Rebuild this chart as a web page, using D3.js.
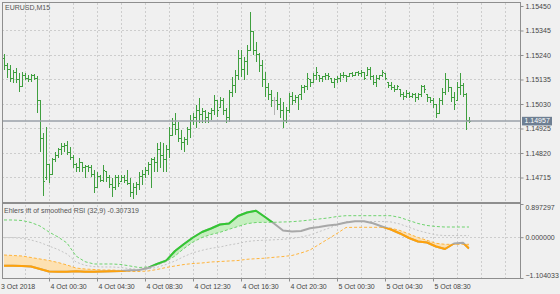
<!DOCTYPE html>
<html>
<head>
<meta charset="utf-8">
<script src="https://cdn.jsdelivr.net/npm/d3@7"></script>
<style>
  body { margin: 0; background: #f0f0f0; }
  svg { display: block; font-family: "Liberation Sans", Arial, sans-serif; }
</style>
</head>
<body>
<svg id="chart" width="560" height="294"></svg>
<script>
const symbolTitle = "EURUSD,M15";
const indicatorTitle = "Ehlers ift of smoothed RSI (32,9) -0.307319";
const firstBar = "2018-10-03 20:45"; // M15 bars

const barOpen = [
  1.15227, 1.15197, 1.15176, 1.15141, 1.15167, 1.15133, 1.15103, 1.15154, 1.15141, 1.15133,
  1.15150, 1.15141, 1.15047, 1.14884, 1.14713, 1.14769, 1.14726, 1.14790, 1.14811, 1.14833,
  1.14846, 1.14854, 1.14824, 1.14799, 1.14769, 1.14756, 1.14781, 1.14756, 1.14760, 1.14756,
  1.14726, 1.14670, 1.14721, 1.14704, 1.14739, 1.14713, 1.14683, 1.14670, 1.14713, 1.14696,
  1.14713, 1.14704, 1.14691, 1.14649, 1.14670, 1.14683, 1.14721, 1.14726, 1.14747, 1.14769,
  1.14790, 1.14781, 1.14833, 1.14811, 1.14790, 1.14833, 1.14897, 1.14940, 1.14919, 1.14884,
  1.14867, 1.14876, 1.14919, 1.14961, 1.14970, 1.15004, 1.14983, 1.14996, 1.14970, 1.14991,
  1.15004, 1.15047, 1.15017, 1.15047, 1.15004, 1.14970, 1.15081, 1.15111, 1.15154, 1.15227,
  1.15176, 1.15210, 1.15261, 1.15339, 1.15261, 1.15240, 1.15197, 1.15133, 1.15099, 1.15069,
  1.15047, 1.15047, 1.15026, 1.15004, 1.14961, 1.15004, 1.15060, 1.15047, 1.15056, 1.15069,
  1.15099, 1.15103, 1.15133, 1.15120, 1.15154, 1.15154, 1.15141, 1.15146, 1.15154, 1.15141,
  1.15124, 1.15133, 1.15141, 1.15150, 1.15154, 1.15146, 1.15159, 1.15154, 1.15163, 1.15159,
  1.15167, 1.15154, 1.15176, 1.15146, 1.15120, 1.15141, 1.15150, 1.15159, 1.15124, 1.15111,
  1.15099, 1.15090, 1.15090, 1.15069, 1.15060, 1.15077, 1.15064, 1.15069, 1.15056, 1.15069,
  1.15103, 1.15069, 1.15056, 1.15047, 1.15026, 1.14991, 1.15047, 1.15081, 1.15133, 1.15099,
  1.15056, 1.15047, 1.15099, 1.15111, 1.15069, 1.14961
];
const barHigh = [
  1.15244, 1.15206, 1.15197, 1.15176, 1.15184, 1.15163, 1.15167, 1.15163, 1.15154, 1.15159,
  1.15159, 1.15150, 1.15047, 1.14906, 1.14931, 1.14769, 1.14799, 1.14824, 1.14841, 1.14863,
  1.14863, 1.14871, 1.14846, 1.14811, 1.14777, 1.14799, 1.14781, 1.14769, 1.14769, 1.14769,
  1.14747, 1.14739, 1.14726, 1.14769, 1.14739, 1.14726, 1.14713, 1.14726, 1.14726, 1.14726,
  1.14726, 1.14747, 1.14713, 1.14691, 1.14696, 1.14739, 1.14747, 1.14760, 1.14781, 1.14799,
  1.14803, 1.14863, 1.14867, 1.14863, 1.14854, 1.14931, 1.14970, 1.14991, 1.14953, 1.14919,
  1.14889, 1.14931, 1.14983, 1.14991, 1.15026, 1.15056, 1.15013, 1.15004, 1.14996, 1.15013,
  1.15069, 1.15047, 1.15060, 1.15056, 1.15013, 1.15090, 1.15146, 1.15176, 1.15261, 1.15261,
  1.15231, 1.15283, 1.15424, 1.15339, 1.15296, 1.15249, 1.15219, 1.15167, 1.15120, 1.15090,
  1.15060, 1.15081, 1.15056, 1.15039, 1.15017, 1.15077, 1.15081, 1.15069, 1.15069, 1.15111,
  1.15111, 1.15163, 1.15133, 1.15163, 1.15189, 1.15154, 1.15150, 1.15163, 1.15163, 1.15141,
  1.15141, 1.15150, 1.15163, 1.15167, 1.15154, 1.15163, 1.15167, 1.15167, 1.15171, 1.15176,
  1.15167, 1.15189, 1.15189, 1.15154, 1.15154, 1.15154, 1.15176, 1.15163, 1.15124, 1.15124,
  1.15111, 1.15111, 1.15090, 1.15081, 1.15090, 1.15081, 1.15077, 1.15077, 1.15077, 1.15111,
  1.15111, 1.15069, 1.15060, 1.15056, 1.15026, 1.15056, 1.15099, 1.15163, 1.15133, 1.15103,
  1.15081, 1.15124, 1.15163, 1.15120, 1.15077, 1.14974
];
const barLow = [
  1.15176, 1.15141, 1.15124, 1.15120, 1.15120, 1.15081, 1.15103, 1.15133, 1.15124, 1.15124,
  1.15133, 1.14991, 1.14824, 1.14636, 1.14704, 1.14691, 1.14726, 1.14781, 1.14799, 1.14811,
  1.14824, 1.14811, 1.14790, 1.14756, 1.14739, 1.14739, 1.14739, 1.14713, 1.14739, 1.14717,
  1.14649, 1.14670, 1.14696, 1.14696, 1.14696, 1.14670, 1.14631, 1.14661, 1.14674, 1.14696,
  1.14691, 1.14683, 1.14631, 1.14623, 1.14640, 1.14661, 1.14683, 1.14713, 1.14726, 1.14670,
  1.14739, 1.14739, 1.14756, 1.14739, 1.14739, 1.14799, 1.14897, 1.14897, 1.14867, 1.14833,
  1.14824, 1.14854, 1.14884, 1.14940, 1.14927, 1.14949, 1.14949, 1.14949, 1.14949, 1.14961,
  1.14983, 1.14974, 1.15017, 1.14983, 1.14949, 1.14953, 1.15060, 1.15077, 1.15133, 1.15146,
  1.15133, 1.15154, 1.15261, 1.15240, 1.15210, 1.15167, 1.15103, 1.15060, 1.15047, 1.15017,
  1.14983, 1.15004, 1.14970, 1.14927, 1.14949, 1.14991, 1.15026, 1.15034, 1.15004, 1.15047,
  1.15077, 1.15090, 1.15103, 1.15120, 1.15133, 1.15124, 1.15124, 1.15133, 1.15133, 1.15120,
  1.15099, 1.15120, 1.15124, 1.15141, 1.15124, 1.15146, 1.15146, 1.15154, 1.15150, 1.15146,
  1.15133, 1.15154, 1.15133, 1.15111, 1.15103, 1.15133, 1.15146, 1.15133, 1.15099, 1.15090,
  1.15081, 1.15090, 1.15060, 1.15047, 1.15056, 1.15056, 1.15056, 1.15039, 1.15047, 1.15060,
  1.15077, 1.15039, 1.15034, 1.15013, 1.14970, 1.14991, 1.15026, 1.15069, 1.15081, 1.15039,
  1.15004, 1.15047, 1.15069, 1.15060, 1.14919, 1.14949
];
const barClose = [
  1.15197, 1.15176, 1.15141, 1.15167, 1.15133, 1.15103, 1.15154, 1.15141, 1.15133, 1.15150,
  1.15141, 1.15047, 1.14884, 1.14696, 1.14769, 1.14726, 1.14790, 1.14811, 1.14833, 1.14846,
  1.14854, 1.14824, 1.14799, 1.14769, 1.14756, 1.14781, 1.14756, 1.14760, 1.14756, 1.14726,
  1.14670, 1.14721, 1.14704, 1.14747, 1.14713, 1.14683, 1.14670, 1.14713, 1.14691, 1.14713,
  1.14704, 1.14691, 1.14649, 1.14670, 1.14683, 1.14721, 1.14726, 1.14747, 1.14769, 1.14790,
  1.14781, 1.14833, 1.14811, 1.14790, 1.14833, 1.14897, 1.14940, 1.14919, 1.14884, 1.14867,
  1.14876, 1.14919, 1.14961, 1.14970, 1.15004, 1.14983, 1.14996, 1.14970, 1.14991, 1.15004,
  1.15047, 1.15004, 1.15047, 1.15004, 1.14970, 1.15081, 1.15111, 1.15154, 1.15227, 1.15176,
  1.15210, 1.15261, 1.15339, 1.15261, 1.15240, 1.15197, 1.15133, 1.15099, 1.15069, 1.15047,
  1.15047, 1.15026, 1.15004, 1.14961, 1.15004, 1.15060, 1.15047, 1.15056, 1.15069, 1.15099,
  1.15103, 1.15141, 1.15120, 1.15154, 1.15167, 1.15141, 1.15146, 1.15154, 1.15146, 1.15124,
  1.15133, 1.15141, 1.15150, 1.15154, 1.15146, 1.15159, 1.15154, 1.15163, 1.15159, 1.15167,
  1.15141, 1.15176, 1.15146, 1.15120, 1.15141, 1.15150, 1.15167, 1.15141, 1.15111, 1.15099,
  1.15090, 1.15103, 1.15069, 1.15060, 1.15077, 1.15064, 1.15069, 1.15056, 1.15069, 1.15103,
  1.15090, 1.15056, 1.15047, 1.15026, 1.14991, 1.15047, 1.15081, 1.15133, 1.15099, 1.15056,
  1.15026, 1.15099, 1.15111, 1.15069, 1.14961, 1.14957
];
const lastPrice = 1.14957;
const priceTicks = [1.15450, 1.15345, 1.15240, 1.15135, 1.15030, 1.14925, 1.14820, 1.14715];

const firstLabel = "3 Oct 2018";
const timeTicks = [
  "2018-10-04 00:30", "2018-10-04 04:30", "2018-10-04 08:30", "2018-10-04 12:30",
  "2018-10-04 16:30", "2018-10-04 20:30", "2018-10-05 00:30", "2018-10-05 04:30",
  "2018-10-05 08:30"
];

// indicator read every 3rd bar (bar numbers)
const indBars = [
  0, 3, 6, 9, 12, 15, 18, 21, 24, 27, 30, 33, 36, 39, 42, 45, 48, 51, 54, 57,
  60, 63, 66, 69, 72, 75, 78, 81, 84, 87, 90, 93, 96, 99, 102, 105, 108, 111, 114, 117,
  120, 123, 126, 129, 132, 135, 138, 141, 144, 147, 150, 153, 155
];
const iftMain = [
  -0.771, -0.771, -0.779, -0.793, -0.861, -0.928, -0.934, -0.934, -0.923, -0.934,
  -0.934, -0.928, -0.923, -0.915, -0.896, -0.888, -0.834, -0.725, -0.639, -0.374,
  -0.184, -0.009, 0.140, 0.235, 0.343, 0.370, 0.573, 0.667, 0.716, 0.546,
  0.370, 0.181, 0.154, 0.167, 0.240, 0.275, 0.316, 0.343, 0.397, 0.429,
  0.429, 0.375, 0.289, 0.208, 0.100, -0.022, -0.117, -0.144, -0.252, -0.320,
  -0.171, -0.149, -0.307
];
const iftUpper = [
  0.465, 0.465, 0.451, 0.397, 0.302, 0.140, 0.005, -0.157, -0.509, -0.663,
  -0.725, -0.725, -0.725, -0.739, -0.779, -0.820, -0.806, -0.752, -0.658, -0.509,
  -0.306, -0.130, -0.009, 0.072, 0.132, 0.213, 0.289, 0.365, 0.397, 0.402,
  0.402, 0.411, 0.419, 0.438, 0.465, 0.492, 0.519, 0.559, 0.581, 0.581,
  0.581, 0.581, 0.581, 0.581, 0.532, 0.451, 0.370, 0.316, 0.289, 0.275,
  0.275, 0.275, 0.275
];
const iftMiddle = [
  -0.014, -0.014, -0.030, -0.076, -0.144, -0.239, -0.333, -0.455, -0.671, -0.761,
  -0.798, -0.806, -0.806, -0.820, -0.852, -0.874, -0.861, -0.815, -0.739, -0.644,
  -0.523, -0.420, -0.355, -0.301, -0.266, -0.211, -0.171, -0.117, -0.092, -0.082,
  -0.071, -0.057, -0.038, 0.005, 0.059, 0.148, 0.235, 0.329, 0.421, 0.424,
  0.424, 0.424, 0.424, 0.411, 0.356, 0.267, 0.181, 0.116, 0.062, 0.043,
  0.043, 0.043, 0.043
];
const iftLower = [
  -0.482, -0.495, -0.509, -0.550, -0.590, -0.631, -0.685, -0.752, -0.834, -0.861,
  -0.874, -0.888, -0.888, -0.901, -0.928, -0.928, -0.915, -0.874, -0.820, -0.779,
  -0.739, -0.712, -0.698, -0.671, -0.658, -0.644, -0.631, -0.598, -0.582, -0.568,
  -0.544, -0.523, -0.495, -0.428, -0.347, -0.198, -0.049, 0.100, 0.262, 0.267,
  0.267, 0.267, 0.267, 0.243, 0.181, 0.086, -0.009, -0.084, -0.166, -0.193,
  -0.193, -0.193, -0.193
];
const iftTicks = [0.897297, 0, -1.104033];

const svg = d3.select("#chart");
const plotLeft = 2, plotRight = 520;
const mainTop = 2, mainBottom = 202, subTop = 203.5, subBottom = 278;
const textColor = "#464646", gridColor = "#cdcdcd", frameColor = "#8e8e8e";

const parse = d3.timeParse("%Y-%m-%d %H:%M");
const t0 = parse(firstBar);
const barTime = barClose.map((d, i) => d3.timeMinute.offset(t0, 15 * i));

const x = d3.scaleTime()
    .domain([d3.timeMinute.offset(t0, -10), d3.timeMinute.offset(t0, 2580)])
    .range([plotLeft, plotRight]);
const y = d3.scaleLinear().domain([1.14610, 1.154671]).range([mainBottom, mainTop]);
const yInd = d3.scaleLinear().domain([-1.104033, 0.897297]).range([subBottom, subTop + 0.5]);

svg.append("rect").attr("width", 560).attr("height", 294).attr("fill", "#f0f0f0");

// grid, every 2 hours
const gridTimes = [];
for (let t = d3.timeMinute.offset(t0, 105); t < x.domain()[1]; t = d3.timeHour.offset(t, 2)) gridTimes.push(t);

const grid = svg.append("g").attr("stroke", gridColor).attr("stroke-dasharray", "2,2").attr("shape-rendering", "crispEdges");
grid.selectAll(".vm").data(gridTimes).join("line")
    .attr("x1", d => Math.round(x(d)) + 0.5).attr("x2", d => Math.round(x(d)) + 0.5)
    .attr("y1", mainTop + 1).attr("y2", mainBottom);
grid.selectAll(".vs").data(gridTimes).join("line")
    .attr("x1", d => Math.round(x(d)) + 0.5).attr("x2", d => Math.round(x(d)) + 0.5)
    .attr("y1", subTop + 1).attr("y2", subBottom);
grid.selectAll(".hm").data(priceTicks.filter(p => y(p) > mainTop + 6)).join("line")
    .attr("x1", plotLeft).attr("x2", plotRight)
    .attr("y1", d => Math.round(y(d)) + 0.5).attr("y2", d => Math.round(y(d)) + 0.5);
grid.append("line")
    .attr("x1", plotLeft).attr("x2", plotRight)
    .attr("y1", Math.round(yInd(0)) + 0.5).attr("y2", Math.round(yInd(0)) + 0.5);

// OHLC bars
const bars = barClose.map((c, i) => ({t: barTime[i], o: barOpen[i], h: barHigh[i], l: barLow[i], c: c}));
svg.append("g").attr("shape-rendering", "crispEdges").attr("fill", "none").attr("stroke-width", 1)
  .selectAll("path").data(bars).join("path")
    .attr("stroke", d => d.o === d.c ? "#b4b4b4" : "#3f9f3f")
    .attr("d", d => {
        const bx = Math.round(x(d.t)) + 0.5;
        return `M${bx},${y(d.h)}V${y(d.l)}M${bx - 1.5},${y(d.o)}H${bx}M${bx},${y(d.c)}H${bx + 1.5}`;
    });

// last price line
svg.append("line")
    .attr("x1", plotLeft).attr("x2", plotRight)
    .attr("y1", y(lastPrice)).attr("y2", y(lastPrice))
    .attr("stroke", "#9aa1a8").attr("stroke-width", 1.4);

// indicator
const ind = indBars.map((b, k) => ({t: barTime[b], main: iftMain[k], up: iftUpper[k], mid: iftMiddle[k], lo: iftLower[k]}));
const defs = svg.append("defs");
defs.append("clipPath").attr("id", "subClip").append("rect")
    .attr("x", plotLeft).attr("y", subTop).attr("width", plotRight - plotLeft).attr("height", subBottom - subTop);
defs.append("clipPath").attr("id", "aboveUp").append("path")
    .attr("d", d3.area().x(d => x(d.t)).y0(subTop - 5).y1(d => yInd(d.up))(ind));
defs.append("clipPath").attr("id", "belowLo").append("path")
    .attr("d", d3.area().x(d => x(d.t)).y0(d => yInd(d.lo)).y1(subBottom + 5)(ind));

const sub = svg.append("g").attr("clip-path", "url(#subClip)");

sub.append("path")
    .attr("d", d3.area().x(d => x(d.t)).y0(d => yInd(d.up)).y1(d => yInd(Math.max(d.main, d.up)))(ind))
    .attr("fill", "#c6efc0");
sub.append("path")
    .attr("d", d3.area().x(d => x(d.t)).y0(d => yInd(d.lo)).y1(d => yInd(Math.min(d.main, d.lo)))(ind))
    .attr("fill", "#fde1b2");

const bandLine = key => d3.line().x(d => x(d.t)).y(d => yInd(d[key]));
sub.append("path").attr("d", bandLine("mid")(ind))
    .attr("fill", "none").attr("stroke", "#c4c4c4").attr("stroke-dasharray", "2,2");
sub.append("path").attr("d", bandLine("up")(ind))
    .attr("fill", "none").attr("stroke", "#6fd36f").attr("stroke-dasharray", "3,2");
sub.append("path").attr("d", bandLine("lo")(ind))
    .attr("fill", "none").attr("stroke", "#ffb43c").attr("stroke-dasharray", "3,2");

const mainLine = bandLine("main")(ind);
sub.append("path").attr("d", mainLine)
    .attr("fill", "none").attr("stroke", "#a8a8a8").attr("stroke-width", 2).attr("stroke-linejoin", "round");
sub.append("path").attr("d", mainLine).attr("clip-path", "url(#aboveUp)")
    .attr("fill", "none").attr("stroke", "#32c832").attr("stroke-width", 2).attr("stroke-linejoin", "round");
sub.append("path").attr("d", mainLine).attr("clip-path", "url(#belowLo)")
    .attr("fill", "none").attr("stroke", "#ffa20a").attr("stroke-width", 2).attr("stroke-linejoin", "round");

// frames
svg.append("rect").attr("x", plotLeft + 0.5).attr("y", mainTop + 0.5)
    .attr("width", plotRight - plotLeft).attr("height", mainBottom - mainTop)
    .attr("fill", "none").attr("stroke", frameColor).attr("shape-rendering", "crispEdges");
svg.append("rect").attr("x", plotLeft + 0.5).attr("y", subTop)
    .attr("width", plotRight - plotLeft).attr("height", subBottom - subTop)
    .attr("fill", "none").attr("stroke", frameColor).attr("shape-rendering", "crispEdges");

// price axis
const yAxis = svg.append("g").attr("transform", `translate(${plotRight + 0.5},0)`)
    .call(d3.axisRight(y).tickValues(priceTicks).tickFormat(d3.format(".5f")).tickSize(3).tickPadding(2));
yAxis.select(".domain").remove();

// indicator axis
const iAxis = svg.append("g").attr("transform", `translate(${plotRight + 0.5},0)`)
    .call(d3.axisRight(yInd).tickValues(iftTicks).tickFormat(d3.format(".6f")).tickSize(3).tickPadding(2));
iAxis.select(".domain").remove();
iAxis.selectAll(".tick text").attr("dy", d => d === iftTicks[0] ? "0.75em" : d === iftTicks[2] ? "-0.1em" : "0.32em");

// time axis
const fmt = d3.timeFormat("%-d %b %H:%M");
const xAxis = svg.append("g").attr("transform", `translate(0,${subBottom + 0.5})`)
    .call(d3.axisBottom(x).tickValues(timeTicks.map(parse)).tickFormat(fmt).tickSize(3).tickPadding(3));
xAxis.select(".domain").remove();
xAxis.selectAll(".tick text").attr("text-anchor", "start").attr("dx", 1);
xAxis.append("text").attr("x", 1).attr("y", 3 + 3).attr("dy", "0.71em")
    .attr("text-anchor", "start").attr("fill", textColor).text(firstLabel);

svg.selectAll(".tick line").attr("stroke", frameColor);
svg.selectAll("g text").attr("font-size", 7).attr("fill", textColor).attr("font-family", "Liberation Sans, Arial, sans-serif");

// last price tag
svg.append("rect").attr("x", plotRight + 2).attr("y", y(lastPrice) - 4.2)
    .attr("width", 30).attr("height", 8.6).attr("fill", "#6e7f93");
svg.append("text").attr("x", plotRight + 4.5).attr("y", y(lastPrice)).attr("dy", "0.34em")
    .attr("font-size", 7).attr("fill", "#ffffff").text(d3.format(".5f")(lastPrice));

// titles
svg.append("text").attr("x", 5).attr("y", 9.5).attr("font-size", 7).attr("fill", "#555").text(symbolTitle);
svg.append("text").attr("x", 4).attr("y", 212.5).attr("font-size", 7).attr("fill", "#555").text(indicatorTitle);
</script>
</body>
</html>
